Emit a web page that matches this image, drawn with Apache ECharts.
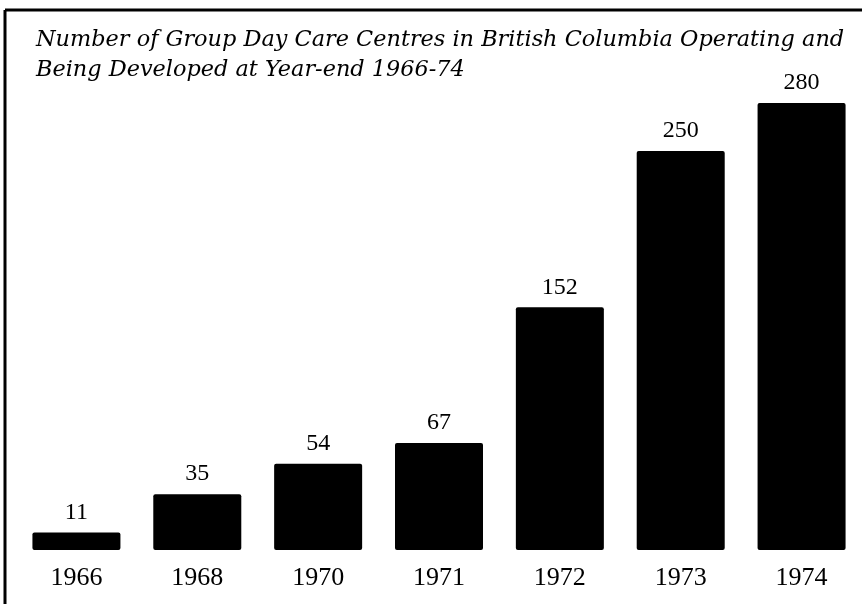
<!DOCTYPE html>
<html>
<head>
<meta charset="utf-8">
<script src="https://cdn.jsdelivr.net/npm/echarts@6/dist/echarts.min.js"></script>
<style>
  html, body { margin: 0; padding: 0; background: #fff; }
  #chart { width: 862px; height: 604px; }
</style>
</head>
<body>
<div id="chart"></div>
<script>
const years = ['1966', '1968', '1970', '1971', '1972', '1973', '1974'];
const centres = [11, 35, 54, 67, 152, 250, 280];
const titleLines = [
  'Number of Group Day Care Centres in British Columbia Operating and',
  'Being Developed at Year-end 1966-74'
];

const chart = echarts.init(document.getElementById('chart'));
const serif = '"Liberation Serif", "DejaVu Serif", serif';

let option = {
  backgroundColor: '#fff',
  animation: false,
  title: {
    text: titleLines.join('\n'),
    left: 31,
    top: 20,
    textStyle: {
      fontFamily: '"DejaVu Serif", serif',
      fontStyle: 'italic',
      fontWeight: 'normal',
      fontSize: 22.4,
      lineHeight: 30,
      color: '#000'
    }
  },
  graphic: [
    { type: 'line', shape: { x1: 5, y1: 10, x2: 862, y2: 10 }, style: { stroke: '#000', lineWidth: 3 } },
    { type: 'line', shape: { x1: 5, y1: 10, x2: 5, y2: 604 }, style: { stroke: '#000', lineWidth: 3 } }
  ],
  grid: {
    left: 16,
    right: -3,
    top: 103,
    bottom: 54
  },
  xAxis: {
    type: 'category',
    data: years,
    axisLine: { show: false },
    axisTick: { show: false },
    axisLabel: {
      margin: 15,
      fontFamily: serif,
      fontSize: 26,
      color: '#000'
    }
  },
  yAxis: {
    type: 'value',
    min: 0,
    max: 280,
    show: false
  },
  series: [{
    type: 'bar',
    data: centres,
    barWidth: 88,
    itemStyle: { color: '#000', borderRadius: 2 },
    label: {
      show: true,
      position: 'top',
      distance: 8,
      fontFamily: serif,
      fontSize: 24,
      color: '#000'
    }
  }]
};
chart.setOption(option);
</script>
</body>
</html>
